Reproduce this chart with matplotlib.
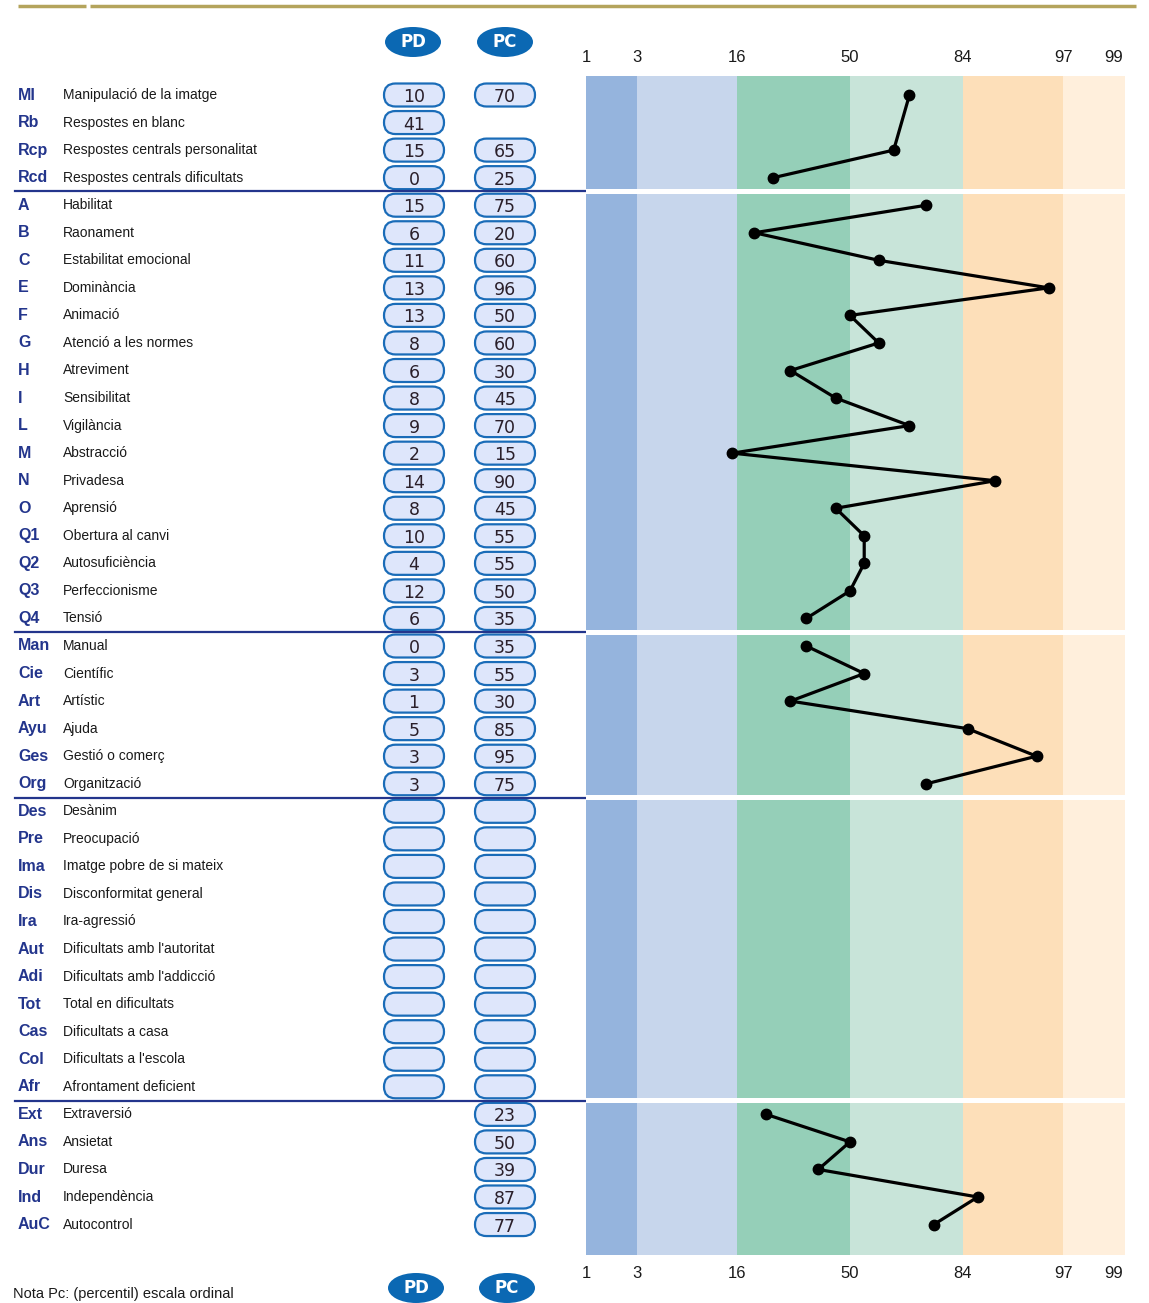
import numpy as np
import matplotlib
matplotlib.use("Agg")
import matplotlib.pyplot as plt
from matplotlib.patches import FancyBboxPatch, Ellipse
from statistics import NormalDist

plt.rcParams["font.family"] = ["Liberation Sans", "DejaVu Sans"]

# -------------------------
# Data
# -------------------------
codes = ["MI", "Rb", "Rcp", "Rcd",
         "A", "B", "C", "E", "F", "G", "H", "I", "L", "M", "N", "O",
         "Q1", "Q2", "Q3", "Q4",
         "Man", "Cie", "Art", "Ayu", "Ges", "Org",
         "Des", "Pre", "Ima", "Dis", "Ira", "Aut", "Adi", "Tot", "Cas", "Col", "Afr",
         "Ext", "Ans", "Dur", "Ind", "AuC"]
names = ["Manipulació de la imatge", "Respostes en blanc",
         "Respostes centrals personalitat", "Respostes centrals dificultats",
         "Habilitat", "Raonament", "Estabilitat emocional", "Dominància",
         "Animació", "Atenció a les normes", "Atreviment", "Sensibilitat",
         "Vigilància", "Abstracció", "Privadesa", "Aprensió",
         "Obertura al canvi", "Autosuficiència", "Perfeccionisme", "Tensió",
         "Manual", "Científic", "Artístic", "Ajuda", "Gestió o comerç",
         "Organització",
         "Desànim", "Preocupació", "Imatge pobre de si mateix",
         "Disconformitat general", "Ira-agressió",
         "Dificultats amb l'autoritat", "Dificultats amb l'addicció",
         "Total en dificultats", "Dificultats a casa", "Dificultats a l'escola",
         "Afrontament deficient",
         "Extraversió", "Ansietat", "Duresa", "Independència", "Autocontrol"]
group_sizes = [4, 16, 6, 11, 5]

# "" = empty box, None = no box
pd_scores = ["10", "41", "15", "0",
             "15", "6", "11", "13", "13", "8", "6", "8", "9", "2", "14", "8",
             "10", "4", "12", "6",
             "0", "3", "1", "5", "3", "3"] + [""] * 11 + [None] * 5
pc_scores = [70, None, 65, 25,
             75, 20, 60, 96, 50, 60, 30, 45, 70, 15, 90, 45, 55, 55, 50, 35,
             35, 55, 30, 85, 95, 75] + [""] * 11 + [23, 50, 39, 87, 77]

pct_ticks = [1, 3, 16, 50, 84, 97, 99]
band_colors = ["#95b4dd", "#c7d6ec", "#95cfb8", "#c8e4d9", "#fddfb9", "#ffefdc"]

# -------------------------
# Layout (pixels)
# -------------------------
W, H = 1149, 1303
row0, row_h = 95, 27.55
band_left, band_right, band_top, band_bot = 586, 1125, 76, 1255
pd_x, pc_x = 414, 505
pill_w, pill_h = 60, 23
navy = "#23358c"
blue = "#1a6cb8"

fig = plt.figure(figsize=(W / 100, H / 100), dpi=100)

# table layer in pixel coordinates
tab = fig.add_axes([0, 0, 1, 1])
tab.set_xlim(0, W)
tab.set_ylim(H, 0)
tab.axis("off")

# top decorative rule
tab.plot([18, 86], [6, 6], color="#b4a45c", lw=2.5, solid_capstyle="butt")
tab.plot([90, 1136], [6, 6], color="#b4a45c", lw=2.5, solid_capstyle="butt")


def row_y(i):
    return row0 + i * row_h


def pill(x, y, txt):
    box = FancyBboxPatch((x - pill_w / 2, y - pill_h / 2), pill_w, pill_h,
                         boxstyle="round,pad=0,rounding_size=11.5",
                         facecolor="#dee6fb", edgecolor=blue, lw=1.6, zorder=3)
    tab.add_patch(box)
    if txt not in ("", None):
        tab.text(x, y + 2, str(txt), ha="center", va="center", fontsize=12.5,
                 color="#2a1f2a", zorder=4, family=["DejaVu Sans"])


for i, (c, n) in enumerate(zip(codes, names)):
    y = row_y(i)
    tab.text(18, y, c, ha="left", va="center", fontsize=11.5, fontweight="bold",
             color=navy)
    tab.text(63, y, n, ha="left", va="center", fontsize=10, color="#1a1a1a")
    if pd_scores[i] is not None:
        pill(pd_x, y, pd_scores[i])
    if pc_scores[i] is not None:
        pill(pc_x, y, pc_scores[i])

# group separators
bounds = np.cumsum(group_sizes)[:-1]
for b in bounds:
    y = row_y(b - 0.5)
    tab.plot([15, band_left], [y, y], color=navy, lw=1.6, zorder=5)

# header / footer ellipses
for (x, y, t) in [(413, 42, "PD"), (505, 42, "PC"), (416, 1288, "PD"), (507, 1288, "PC")]:
    tab.add_patch(Ellipse((x, y), 56, 30, facecolor="#0b68b3", edgecolor="none"))
    tab.text(x, y, t, ha="center", va="center", color="white", fontsize=12,
             fontweight="bold", family=["DejaVu Sans"])

tab.text(13, 1294, "Nota Pc: (percentil) escala ordinal", ha="left", va="center",
         fontsize=10.5, color="#1a1a1a")

# -------------------------
# Percentile profile on a normal (z) scale
# -------------------------
nd = NormalDist()
_fwd = np.vectorize(lambda p: nd.inv_cdf(min(max(p, 0.001), 99.999) / 100.0),
                    otypes=[float])
_inv = np.vectorize(lambda z: 100.0 * nd.cdf(z), otypes=[float])

ax = fig.add_axes([band_left / W, 1 - band_bot / H,
                   (band_right - band_left) / W, (band_bot - band_top) / H])
ax.set_xscale("function", functions=(_fwd, _inv))
x_max = float(_inv(-1.042 * _fwd(1.0)))
ax.set_xlim(1, x_max)
ax.set_ylim((band_bot - row0) / row_h, (band_top - row0) / row_h)

edges = pct_ticks[:-1] + [x_max]
for lo, hi, col in zip(edges[:-1], edges[1:], band_colors):
    ax.axvspan(lo, hi, color=col, lw=0, zorder=0)

for b in bounds:
    ax.axhspan(b - 0.5 - 0.09, b - 0.5 + 0.09, color="white", lw=0, zorder=1)

start = 0
for g in group_sizes:
    rows = [i for i in range(start, start + g) if isinstance(pc_scores[i], (int, float))]
    if rows:
        ax.plot([pc_scores[i] for i in rows], rows, "-o", color="black", lw=2.3,
                ms=7.5, zorder=3)
    start += g

ax.set_xticks(pct_ticks)
ax.set_xticklabels([str(t) for t in pct_ticks])
ax.xaxis.set_minor_locator(matplotlib.ticker.NullLocator())
ax.tick_params(axis="x", which="both", length=0, top=True, labeltop=True,
               bottom=True, labelbottom=True, labelsize=12, colors="#1a1a1a")
ax.tick_params(axis="x", pad=8)
ax.set_yticks([])
for s in ax.spines.values():
    s.set_visible(False)

fig.savefig("out.png", dpi=100)
